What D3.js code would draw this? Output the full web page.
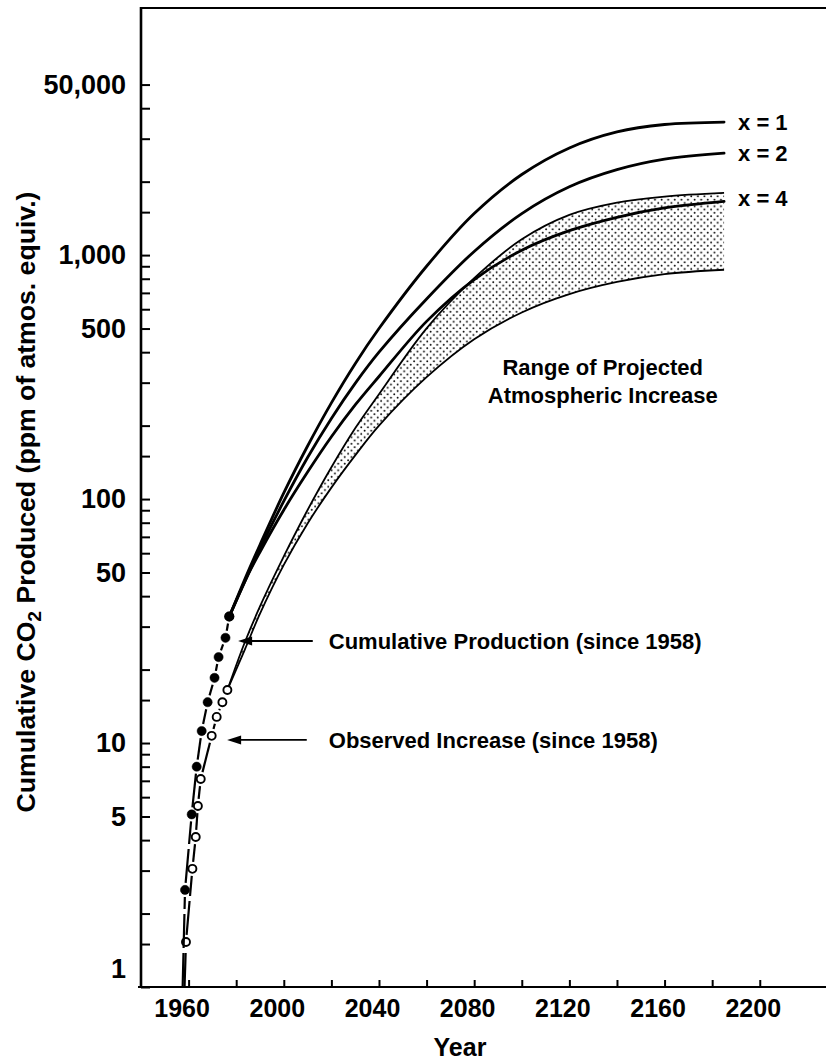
<!DOCTYPE html>
<html><head><meta charset="utf-8">
<script src="https://cdn.jsdelivr.net/npm/d3@7"></script>
<style>
html,body{margin:0;padding:0;background:#fff;}
svg{display:block;font-family:"Liberation Sans",Arial,Helvetica,sans-serif;}
</style></head><body>
<svg id="chart" width="826" height="1062"></svg>
<script>
// ---------------- data ----------------
// cumulative production (filled dots); first point = start at axis in 1958
const cumYears  = [1957.5, 1958.5, 1961.3, 1963.4, 1965.5, 1968, 1970.9, 1972.6, 1975.5, 1977.1];
const cumValues = [1, 2.5, 5.1, 8.0, 11.2, 14.7, 18.5, 22.5, 27, 33];
// observed atmospheric increase (open circles)
const obsYears  = [1958.3, 1958.9, 1961.6, 1963.0, 1963.9, 1965.1, 1969.7, 1971.8, 1974.2, 1976.3];
const obsValues = [1, 1.53, 3.05, 4.12, 5.52, 7.12, 10.7, 12.8, 14.7, 16.5];
// projections of cumulative production
const projYears = [1977.1, 1985, 1990, 2000, 2010, 2020, 2030, 2040, 2060, 2080, 2100, 2120, 2140, 2160, 2185];
const projX1 = [33, 50.5, 65, 106, 165, 248, 359, 500, 900, 1480, 2140, 2750, 3200, 3430, 3510];
const projX2 = [33, 49.2, 62.6, 98, 148, 214, 298, 400, 661, 1035, 1479, 1905, 2239, 2472, 2618];
const projX4 = [33, 49, 60.7, 90.2, 129, 180, 243, 318, 535, 794, 1047, 1259, 1429, 1560, 1660];
const projLabels = ["x = 1", "x = 2", "x = 4"];
// range of projected atmospheric increase
const bandYears  = [1976.3, 1983.5, 1990, 2000, 2010, 2020, 2030, 2040, 2060, 2080, 2100, 2120, 2140, 2160, 2185];
const bandTop    = [16.5, 25.7, 36.3, 58.2, 90.2, 135, 195, 269, 501, 804, 1161, 1462, 1641, 1738, 1799];
const bandBottom = [16.5, 24, 33.9, 53.7, 79.4, 111.4, 151, 200, 316, 452, 582, 692, 776, 836, 871];
// axes
const yearTicks  = [1960, 1980, 2000, 2020, 2040, 2060, 2080, 2100, 2120, 2140, 2160, 2180, 2200];
const yearLabels = [1960, 2000, 2040, 2080, 2120, 2160, 2200];
const yLabelValues = [1, 5, 10, 50, 100, 500, 1000, 5000];
const yLabelTexts  = ["1", "5", "10", "50", "100", "500", "1,000", "50,000"];
const minorMultipliers = [1, 1.5, 2, 3, 4, 5, 6, 7, 8, 9];
const decades = [1, 10, 100, 1000];

// ---------------- layout ----------------
const svg = d3.select("#chart");
const x = d3.scaleLinear().domain([1940, 2228]).range([141, 826.4]);
const y = d3.scaleLog().domain([1, 10300]).range([987, 8]).clamp(true);
const ink = "#000";
const smooth = d3.curveCatmullRom.alpha(0.5);

// stipple pattern
const defs = svg.append("defs");
const pat = defs.append("pattern").attr("id", "stipple")
  .attr("width", 6.6).attr("height", 6.6).attr("patternUnits", "userSpaceOnUse");
pat.append("circle").attr("cx", 1.6).attr("cy", 1.6).attr("r", 0.95).attr("fill", ink);
pat.append("circle").attr("cx", 4.9).attr("cy", 4.9).attr("r", 0.95).attr("fill", ink);

// frame
const [x0, x1] = x.range();
const [yb, yt] = y.range();
svg.append("line").attr("x1", x0).attr("x2", x1).attr("y1", yt).attr("y2", yt)
  .attr("stroke", ink).attr("stroke-width", 2.2);
svg.append("line").attr("x1", x0).attr("x2", x0).attr("y1", yt - 1).attr("y2", yb + 1)
  .attr("stroke", ink).attr("stroke-width", 2.6);
svg.append("line").attr("x1", x0 - 3).attr("x2", x1).attr("y1", yb).attr("y2", yb)
  .attr("stroke", ink).attr("stroke-width", 2.2);

// y ticks (inward)
const minorTicks = [];
decades.forEach(d => minorMultipliers.forEach(m => { if (d * m <= 5000) minorTicks.push(d * m); }));
const yTickAxis = svg.append("g").attr("transform", `translate(${x0},0)`)
  .call(d3.axisRight(y).tickValues(minorTicks).tickSize(9).tickFormat(""));
yTickAxis.select(".domain").remove();
yTickAxis.selectAll("line").attr("stroke", ink).attr("stroke-width", 2);

const yLab = svg.append("g").attr("transform", `translate(${x0},0)`)
  .call(d3.axisLeft(y).tickValues(yLabelValues).tickSize(0).tickPadding(15)
    .tickFormat((d) => yLabelTexts[yLabelValues.indexOf(d)]));
yLab.select(".domain").remove();
yLab.selectAll("text").attr("font-size", 27).attr("font-weight", "bold")
  .attr("font-family", '"Liberation Sans",Arial,sans-serif').attr("fill", ink);
yLab.selectAll(".tick").filter(d => d === 1).select("text").attr("dy", "-0.36em");

// x ticks (inward)
const xTickAxis = svg.append("g").attr("transform", `translate(0,${yb})`)
  .call(d3.axisTop(x).tickValues(yearTicks).tickSize(7).tickFormat(""));
xTickAxis.select(".domain").remove();
xTickAxis.selectAll("line").attr("stroke", ink).attr("stroke-width", 2);

const xLab = svg.append("g").attr("transform", `translate(0,${yb})`)
  .call(d3.axisBottom(x).tickValues(yearLabels).tickSize(0).tickPadding(12).tickFormat(d3.format("d")));
xLab.select(".domain").remove();
xLab.selectAll("text").attr("font-size", 25).attr("font-weight", "bold").attr("dx", -7)
  .attr("font-family", '"Liberation Sans",Arial,sans-serif').attr("fill", ink);

// axis titles
svg.append("text").attr("x", 460).attr("y", 1056).attr("text-anchor", "middle")
  .attr("font-size", 25).attr("font-weight", "bold").attr("fill", ink).text("Year");

const yt_ = svg.append("text").attr("transform", "translate(35,502) rotate(-90)")
  .attr("text-anchor", "middle").attr("font-size", 26).attr("font-weight", "bold").attr("fill", ink);
yt_.append("tspan").text("Cumulative CO");
yt_.append("tspan").attr("dy", 6).attr("font-size", 19).text("2");
yt_.append("tspan").attr("dy", -6).text(" Produced (ppm of atmos. equiv.)");
(function fit() {
  const len = yt_.node().getComputedTextLength();
  const f = 26 * 621 / len;
  yt_.attr("font-size", f);
  yt_.selectAll("tspan").filter((d, i) => i === 1).attr("font-size", f * 0.72);
})();

// ---------------- band ----------------
const band = bandYears.map((yr, i) => ({yr, lo: bandBottom[i], hi: bandTop[i]}));
svg.append("path").datum(band)
  .attr("d", d3.area().x(d => x(d.yr)).y0(d => y(d.lo)).y1(d => y(d.hi)).curve(smooth))
  .attr("fill", "url(#stipple)").attr("stroke", "none");
const bandLine = (key) => d3.line().x(d => x(d.yr)).y(d => y(d[key])).curve(smooth);
svg.append("path").datum(band).attr("d", bandLine("hi")).attr("fill", "none")
  .attr("stroke", ink).attr("stroke-width", 1.8);
svg.append("path").datum(band).attr("d", bandLine("lo")).attr("fill", "none")
  .attr("stroke", ink).attr("stroke-width", 1.8);

// ---------------- projections ----------------
const projSeries = [projX1, projX2, projX4];
const projLine = d3.line().x(d => x(d[0])).y(d => y(d[1])).curve(smooth);
projSeries.forEach((vals) => {
  svg.append("path").datum(projYears.map((yr, i) => [yr, vals[i]]))
    .attr("d", projLine).attr("fill", "none").attr("stroke", ink)
    .attr("stroke-width", 2.8).attr("stroke-linecap", "round");
});
const lastIdx = projYears.length - 1;
const labelNudge = [0, 0, -3];
projSeries.forEach((vals, k) => {
  svg.append("text").attr("x", x(projYears[lastIdx]) + 14)
    .attr("y", y(vals[lastIdx]) + labelNudge[k]).attr("dy", "0.35em")
    .attr("font-size", 22).attr("font-weight", "bold").attr("fill", ink).text(projLabels[k]);
});

// ---------------- historical series ----------------
function drawSeries(years, values, filled) {
  const pts = years.map((yr, i) => ({px: x(yr), py: y(values[i]), marker: i > 0}));
  const r = 4.6;
  const g = svg.append("g");
  for (let i = 0; i < pts.length - 1; i++) {
    const a = pts[i], b = pts[i + 1];
    const dx = b.px - a.px, dy = b.py - a.py, L = Math.hypot(dx, dy);
    const ux = dx / L, uy = dy / L;
    const s = a.marker ? r + 2.5 : 0, e = b.marker ? r + 2.5 : 0;
    if (L - s - e <= 1) continue;
    g.append("path").datum([[a.px + ux * s, a.py + uy * s], [b.px - ux * e, b.py - uy * e]])
      .attr("d", d3.line()).attr("stroke", ink).attr("stroke-width", 2.2)
      .attr("stroke-dasharray", "34,5").attr("fill", "none");
  }
  g.selectAll("circle").data(pts.filter(p => p.marker)).join("circle")
    .attr("cx", d => d.px).attr("cy", d => d.py).attr("r", filled ? r : r - 0.6)
    .attr("fill", filled ? ink : "#fff").attr("stroke", ink).attr("stroke-width", filled ? 0.5 : 1.9);
}
drawSeries(obsYears, obsValues, false);
drawSeries(cumYears, cumValues, true);
svg.append("circle").attr("cx", x(projYears[0])).attr("cy", y(projX1[0])).attr("r", 5).attr("fill", ink);

// ---------------- annotations ----------------
const annotations = [
  {text: "Cumulative Production (since 1958)", tipYear: 1980.8, value: 26.2, textYear: 2018.9, gap: 16},
  {text: "Observed Increase (since 1958)", tipYear: 1976.2, value: 10.3, textYear: 2018.9, gap: 22}
];
annotations.forEach(a => {
  const ty = y(a.value), tx = x(a.tipYear), sx = x(a.textYear);
  svg.append("line").attr("x1", tx + 6).attr("x2", sx - a.gap).attr("y1", ty).attr("y2", ty)
    .attr("stroke", ink).attr("stroke-width", 1.8);
  svg.append("path").attr("d", `M${tx},${ty}L${tx + 14},${ty - 4.5}L${tx + 14},${ty + 4.5}Z`).attr("fill", ink);
  svg.append("text").attr("x", sx).attr("y", ty).attr("dy", "0.36em")
    .attr("font-size", 22).attr("font-weight", "bold").attr("fill", ink).text(a.text);
});
const rangeText = svg.append("text").attr("text-anchor", "middle")
  .attr("font-size", 22).attr("font-weight", "bold").attr("fill", ink);
rangeText.append("tspan").attr("x", x(2134)).attr("y", 375).text("Range of Projected");
rangeText.append("tspan").attr("x", x(2134)).attr("y", 403).text("Atmospheric Increase");
</script>
</body></html>
